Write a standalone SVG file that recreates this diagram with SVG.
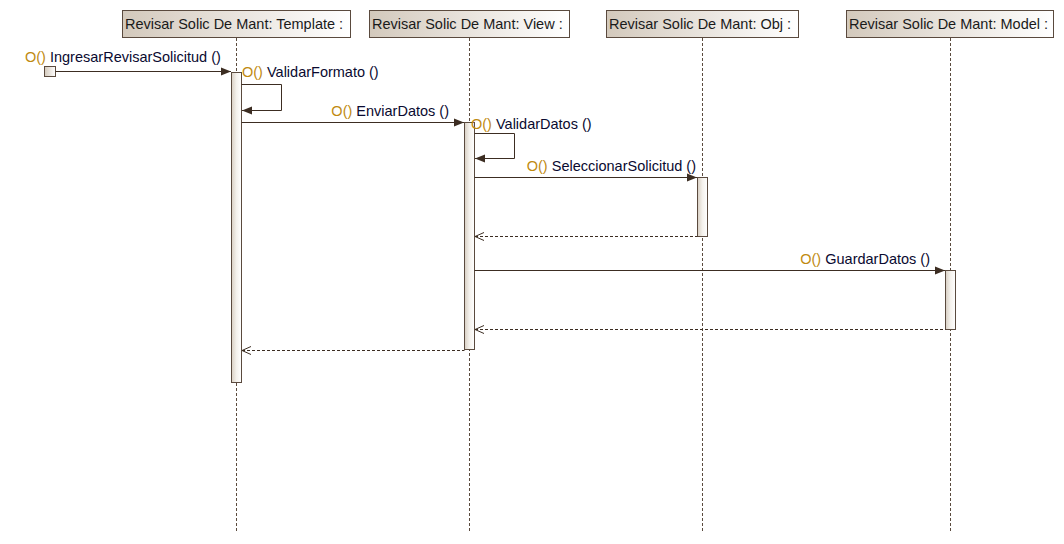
<svg xmlns="http://www.w3.org/2000/svg" width="1064" height="544" viewBox="0 0 1064 544">
<defs>
<linearGradient id="hg" x1="0" y1="0" x2="1" y2="0">
<stop offset="0" stop-color="#d3c9bc"/>
<stop offset="1" stop-color="#ffffff"/>
</linearGradient>
<linearGradient id="ag" x1="0" y1="0" x2="1" y2="0">
<stop offset="0" stop-color="#d8cfc3"/>
<stop offset="0.5" stop-color="#f4f1ec"/>
<stop offset="1" stop-color="#ffffff"/>
</linearGradient>
<marker id="fill" markerWidth="10" markerHeight="10" refX="10" refY="5" orient="auto" markerUnits="userSpaceOnUse">
<path d="M0,1 L10,5 L0,9 Z" fill="#3c2d22"/>
</marker>
<marker id="open" markerWidth="12" markerHeight="10" refX="10" refY="5" orient="auto-start-reverse" markerUnits="userSpaceOnUse">
<path d="M1,1 L10,5 L1,9" fill="none" stroke="#3c2d22" stroke-width="1"/>
</marker>
</defs>
<style>
.hd{fill:url(#hg);stroke:#5a4a3e;stroke-width:1}
.ht{font-family:"Liberation Sans",Arial,sans-serif;font-size:14.5px;fill:#1a1a1a}
.ll{stroke:#5a4a3e;stroke-width:1;stroke-dasharray:3,2;fill:none}
.act{fill:url(#ag);stroke:#5a4a3e;stroke-width:1}
.msg{stroke:#3c2d22;stroke-width:1;fill:none}
.ret{stroke:#3c2d22;stroke-width:1;fill:none;stroke-dasharray:3,2}
.lb{font-family:"Liberation Sans",Arial,sans-serif;font-size:14.5px;fill:#0a0a30}
.op{fill:#c08a10}
</style>
<rect width="1064" height="544" fill="#ffffff"/>
<g id="template">
<rect class="hd" x="122.5" y="10.5" width="228" height="27"/>
<text class="ht" x="125" y="29">Revisar Solic De Mant: Template :</text>
<line class="ll" x1="236.5" y1="38" x2="236.5" y2="533"/>
<rect class="act" x="231.5" y="72.5" width="10" height="310"/>
</g>
<g id="view">
<rect class="hd" x="369.5" y="10.5" width="200" height="27"/>
<text class="ht" x="372" y="29">Revisar Solic De Mant: View :</text>
<line class="ll" x1="469.5" y1="38" x2="469.5" y2="533"/>
<rect class="act" x="464.5" y="122.5" width="10" height="227"/>
</g>
<g id="obj">
<rect class="hd" x="606.5" y="10.5" width="192" height="27"/>
<text class="ht" x="609" y="29">Revisar Solic De Mant: Obj :</text>
<line class="ll" x1="702.5" y1="38" x2="702.5" y2="533"/>
<rect class="act" x="697.5" y="177.5" width="10" height="59"/>
</g>
<g id="model">
<rect class="hd" x="846.5" y="10.5" width="207" height="27"/>
<text class="ht" x="849" y="29">Revisar Solic De Mant: Model :</text>
<line class="ll" x1="950.5" y1="38" x2="950.5" y2="533"/>
<rect class="act" x="945.5" y="270.5" width="10" height="59"/>
</g>
<g id="found">
<rect x="44.5" y="66.5" width="11" height="10" fill="url(#hg)" stroke="#5a4a3e"/>
</g>
<g id="connectors">
<line class="msg" x1="55.5" y1="71.5" x2="231" y2="71.5" marker-end="url(#fill)"/>
<polyline class="msg" points="241.5,84.5 281.5,84.5 281.5,110.5 242,110.5" marker-end="url(#fill)"/>
<line class="msg" x1="241.5" y1="122.5" x2="464" y2="122.5" marker-end="url(#fill)"/>
<polyline class="msg" points="474.5,133.5 514.5,133.5 514.5,158.5 475,158.5" marker-end="url(#fill)"/>
<line class="msg" x1="474.5" y1="177.5" x2="697" y2="177.5" marker-end="url(#fill)"/>
<line class="ret" x1="475" y1="236.5" x2="697.5" y2="236.5" marker-start="url(#open)"/>
<line class="msg" x1="474.5" y1="270.5" x2="945" y2="270.5" marker-end="url(#fill)"/>
<line class="ret" x1="475" y1="329.5" x2="945.5" y2="329.5" marker-start="url(#open)"/>
<line class="ret" x1="242" y1="350.5" x2="464.5" y2="350.5" marker-start="url(#open)"/>
</g>
<g id="labels">
<text class="lb" x="25" y="62"><tspan class="op">O()</tspan> IngresarRevisarSolicitud ()</text>
<text class="lb" x="242" y="77"><tspan class="op">O()</tspan> ValidarFormato ()</text>
<text class="lb" x="449" y="116" text-anchor="end"><tspan class="op">O()</tspan> EnviarDatos ()</text>
<text class="lb" x="471" y="129"><tspan class="op">O()</tspan> ValidarDatos ()</text>
<text class="lb" x="696" y="171" text-anchor="end"><tspan class="op">O()</tspan> SeleccionarSolicitud ()</text>
<text class="lb" x="930" y="264" text-anchor="end"><tspan class="op">O()</tspan> GuardarDatos ()</text>
</g>
</svg>
